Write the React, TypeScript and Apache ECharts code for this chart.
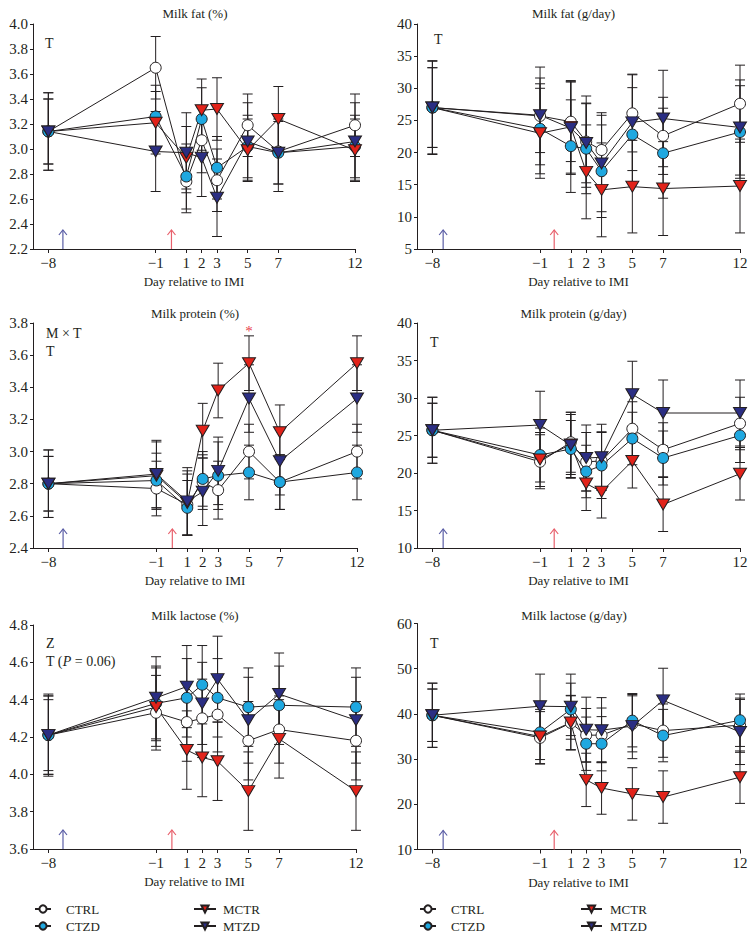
import React, { useEffect, useRef } from 'react';
import * as echarts from 'echarts';

// ---------- data ----------
const days = [-8, -1, 1, 2, 3, 5, 7, 12];
const groups = ['CTRL', 'CTZD', 'MCTR', 'MTZD'];

// Milk fat (%)
const fatPctCTRL = [3.14, 3.65, 2.74, 3.07, 2.75, 3.19, 2.98, 3.19];
const fatPctCTZD = [3.14, 3.26, 2.78, 3.24, 2.85, 3.02, 2.97, 3.02];
const fatPctMCTR = [3.14, 3.21, 2.93, 3.31, 3.32, 2.99, 3.24, 2.99];
const fatPctMTZD = [3.14, 2.98, 2.97, 2.93, 2.61, 3.06, 2.97, 3.06];
const fatPctCTRLse = [0.31, 0.25, 0.25, 0.26, 0.25, 0.25, 0.26, 0.25];
const fatPctCTZDse = [0.26, 0.25, 0.26, 0.25, 0.25, 0.25, 0.25, 0.25];
const fatPctMCTRse = [0.31, 0.25, 0.25, 0.25, 0.25, 0.25, 0.26, 0.25];
const fatPctMTZDse = [0.26, 0.32, 0.32, 0.31, 0.31, 0.31, 0.31, 0.31];

// Milk fat (g/day)
const fatGCTRL = [27.0, 25.7, 24.8, 21.7, 20.4, 26.1, 22.6, 27.6];
const fatGCTZD = [27.0, 23.7, 21.0, 20.6, 17.1, 22.8, 19.9, 23.2];
const fatGMCTR = [27.0, 23.0, 24.0, 17.0, 14.2, 14.7, 14.4, 14.8];
const fatGMTZD = [27.0, 25.8, 23.8, 21.5, 18.3, 24.7, 25.3, 23.9];
const fatGCTRLse = [7.2, 7.6, 6.2, 7.1, 5.8, 6.0, 6.0, 6.0];
const fatGCTZDse = [6.2, 7.0, 7.2, 7.0, 7.2, 7.3, 7.0, 7.2];
const fatGMCTRse = [7.3, 7.0, 7.2, 7.3, 7.3, 7.2, 7.3, 7.3];
const fatGMTZDse = [6.2, 5.8, 7.2, 6.2, 7.5, 7.5, 7.5, 7.4];

// Milk protein (%)
const protPctCTRL = [2.80, 2.77, 2.67, 2.81, 2.76, 3.00, 2.81, 3.00];
const protPctCTZD = [2.80, 2.82, 2.65, 2.83, 2.85, 2.87, 2.81, 2.87];
const protPctMCTR = [2.80, 2.85, 2.68, 3.13, 3.38, 3.55, 3.12, 3.55];
const protPctMTZD = [2.80, 2.86, 2.69, 2.75, 2.88, 3.33, 2.94, 3.33];
const protPctCTRLse = [0.21, 0.17, 0.19, 0.17, 0.18, 0.17, 0.17, 0.17];
const protPctCTZDse = [0.17, 0.17, 0.17, 0.17, 0.21, 0.17, 0.17, 0.17];
const protPctMCTRse = [0.21, 0.21, 0.20, 0.17, 0.17, 0.17, 0.17, 0.17];
const protPctMTZDse = [0.17, 0.21, 0.21, 0.21, 0.21, 0.21, 0.21, 0.21];

// Milk protein (g/day)
const protGCTRL = [25.7, 21.5, 24.1, 21.5, 21.6, 25.9, 23.1, 26.6];
const protGCTZD = [25.7, 22.4, 23.2, 20.2, 21.0, 24.6, 22.0, 25.0];
const protGMCTR = [25.7, 21.8, 23.8, 18.6, 17.5, 21.6, 15.8, 19.9];
const protGMTZD = [25.7, 26.4, 23.7, 22.0, 22.1, 30.5, 28.0, 28.0];
const protGCTRLse = [4.4, 3.6, 4.0, 3.9, 3.9, 3.6, 3.6, 3.5];
const protGCTZDse = [3.6, 3.6, 3.8, 3.5, 4.4, 3.5, 3.6, 3.6];
const protGMCTRse = [4.4, 3.6, 4.0, 3.6, 3.5, 3.6, 3.6, 3.5];
const protGMTZDse = [3.6, 4.5, 4.4, 4.4, 4.4, 4.4, 4.4, 4.4];

// Milk lactose (%)
const lacPctCTRL = [4.21, 4.33, 4.28, 4.30, 4.32, 4.18, 4.24, 4.18];
const lacPctCTZD = [4.21, 4.38, 4.41, 4.48, 4.41, 4.36, 4.37, 4.36];
const lacPctMCTR = [4.21, 4.36, 4.13, 4.09, 4.07, 3.91, 4.19, 3.91];
const lacPctMTZD = [4.21, 4.41, 4.47, 4.38, 4.51, 4.29, 4.43, 4.29];
const lacPctCTRLse = [0.21, 0.20, 0.21, 0.21, 0.20, 0.21, 0.18, 0.21];
const lacPctCTZDse = [0.21, 0.20, 0.21, 0.21, 0.21, 0.21, 0.21, 0.21];
const lacPctMCTRse = [0.19, 0.21, 0.21, 0.21, 0.21, 0.21, 0.21, 0.21];
const lacPctMTZDse = [0.22, 0.22, 0.22, 0.22, 0.23, 0.23, 0.22, 0.23];

// Milk lactose (g/day)
const lacGCTRL = [39.7, 34.7, 38.0, 35.3, 35.3, 37.8, 36.3, 37.5];
const lacGCTZD = [39.7, 35.9, 41.0, 33.4, 33.4, 38.5, 35.2, 38.6];
const lacGMCTR = [39.7, 35.0, 38.1, 25.4, 23.6, 22.3, 21.6, 26.0];
const lacGMTZD = [39.7, 41.7, 41.6, 36.5, 36.4, 37.3, 43.0, 36.0];
const lacGCTRLse = [7.1, 5.8, 6.0, 5.9, 6.0, 6.2, 5.9, 6.0];
const lacGCTZDse = [5.8, 6.0, 5.8, 5.9, 6.0, 5.8, 5.8, 5.8];
const lacGMCTRse = [7.1, 6.0, 6.0, 5.9, 5.8, 5.8, 5.8, 5.8];
const lacGMTZDse = [5.8, 7.1, 7.2, 7.2, 7.2, 7.2, 7.1, 7.2];

// arrows (day positions): treatment start, IMI
const arrowDaysLeft = [-7.05, 0.03];
const arrowDaysRight = [-7.3, -0.08];
// significance marker
const starPoint = [5, 3.75];

// ---------- styles ----------
const FONT = '"Liberation Serif", "Times New Roman", serif';
const INK = '#231f20';
const groupStyles: Record<string, any> = {
  CTRL: { symbol: 'circle', size: 11, rotate: 0, color: '#ffffff' },
  CTZD: { symbol: 'circle', size: 11, rotate: 0, color: '#1fa8e0' },
  MCTR: { symbol: 'triangle', size: [13, 11], rotate: 180, color: '#e2231a' },
  MTZD: { symbol: 'triangle', size: [13, 11], rotate: 180, color: '#2b2e83' },
};
const arrowColors = ['#5b5ea6', '#e8606c'];

const panels = [
  { title: 'Milk fat (%)', min: 2.2, max: 4.0, interval: 0.2, dec: 1,
    means: [fatPctCTRL, fatPctCTZD, fatPctMCTR, fatPctMTZD],
    ses: [fatPctCTRLse, fatPctCTZDse, fatPctMCTRse, fatPctMTZDse],
    grid: { left: 33, top: 24, width: 322, height: 225 }, arrows: arrowDaysLeft },
  { title: 'Milk fat (g/day)', min: 5, max: 40, interval: 5, dec: 0,
    means: [fatGCTRL, fatGCTZD, fatGMCTR, fatGMTZD],
    ses: [fatGCTRLse, fatGCTZDse, fatGMCTRse, fatGMTZDse],
    grid: { left: 417, top: 24, width: 323, height: 225 }, arrows: arrowDaysRight },
  { title: 'Milk protein (%)', min: 2.4, max: 3.8, interval: 0.2, dec: 1,
    means: [protPctCTRL, protPctCTZD, protPctMCTR, protPctMTZD],
    ses: [protPctCTRLse, protPctCTZDse, protPctMCTRse, protPctMTZDse],
    grid: { left: 33, top: 323, width: 324, height: 225 }, arrows: arrowDaysLeft },
  { title: 'Milk protein (g/day)', min: 10, max: 40, interval: 5, dec: 0,
    means: [protGCTRL, protGCTZD, protGMCTR, protGMTZD],
    ses: [protGCTRLse, protGCTZDse, protGMCTRse, protGMTZDse],
    grid: { left: 417, top: 323, width: 323, height: 225 }, arrows: arrowDaysRight },
  { title: 'Milk lactose (%)', min: 3.6, max: 4.8, interval: 0.2, dec: 1,
    means: [lacPctCTRL, lacPctCTZD, lacPctMCTR, lacPctMTZD],
    ses: [lacPctCTRLse, lacPctCTZDse, lacPctMCTRse, lacPctMTZDse],
    grid: { left: 33, top: 625, width: 323, height: 224 }, arrows: arrowDaysLeft },
  { title: 'Milk lactose (g/day)', min: 10, max: 60, interval: 10, dec: 0,
    means: [lacGCTRL, lacGCTZD, lacGMCTR, lacGMTZD],
    ses: [lacGCTRLse, lacGCTZDse, lacGMCTRse, lacGMTZDse],
    grid: { left: 417, top: 623.5, width: 323, height: 226 }, arrows: arrowDaysRight },
];

const titleCenters = [
  [195, 13], [573.5, 13], [195, 313.5], [573.5, 313.5], [195, 615], [574, 615],
];

function buildOption() {
  const grids: any[] = [];
  const xAxes: any[] = [];
  const yAxes: any[] = [];
  const series: any[] = [];

  panels.forEach((p, pi) => {
    grids.push({ ...p.grid });
    xAxes.push({
      type: 'value', gridIndex: pi, min: -9, max: 12, interval: 1,
      splitLine: { show: false },
      axisLine: { show: true, onZero: false, lineStyle: { color: INK, width: 1 } },
      axisTick: { show: true, length: 4, customValues: days, lineStyle: { color: INK } },
      axisLabel: {
        customValues: days, margin: 6, color: INK, fontFamily: FONT, fontSize: 15,
        formatter: (v: number) => (v < 0 ? '\u2212' + Math.abs(v) : String(v)),
      },
      name: 'Day relative to IMI', nameLocation: 'middle', nameGap: 26,
      nameTextStyle: { color: INK, fontFamily: FONT, fontSize: 13 },
    });
    yAxes.push({
      type: 'value', gridIndex: pi, min: p.min, max: p.max, interval: p.interval,
      splitLine: { show: false },
      axisLine: { show: true, onZero: false, lineStyle: { color: INK, width: 1 } },
      axisTick: { show: true, length: 3, lineStyle: { color: INK } },
      axisLabel: {
        margin: 5, color: INK, fontFamily: FONT, fontSize: 15,
        formatter: (v: number) => v.toFixed(p.dec),
      },
    });

    // error bars
    groups.forEach((g, gi) => {
      series.push({
        type: 'custom', name: g + '-err', xAxisIndex: pi, yAxisIndex: pi, z: 1,
        silent: true,
        encode: { x: 0, y: 1 },
        data: days.map((d, i) => [d, p.means[gi][i], p.ses[gi][i]]),
        renderItem: (params: any, api: any) => {
          const x = api.value(0), y = api.value(1), e = api.value(2);
          const t = api.coord([x, y + e]);
          const b = api.coord([x, y - e]);
          const hw = 5;
          const st = { stroke: INK, lineWidth: 1 };
          return {
            type: 'group',
            children: [
              { type: 'line', shape: { x1: t[0], y1: t[1], x2: b[0], y2: b[1] }, style: st },
              { type: 'line', shape: { x1: t[0] - hw, y1: t[1], x2: t[0] + hw, y2: t[1] }, style: st },
              { type: 'line', shape: { x1: b[0] - hw, y1: b[1], x2: b[0] + hw, y2: b[1] }, style: st },
            ],
          };
        },
      });
    });

    // lines + markers
    groups.forEach((g, gi) => {
      const s = groupStyles[g];
      series.push({
        type: 'line', name: g, xAxisIndex: pi, yAxisIndex: pi, z: 3,
        data: days.map((d, i) => [d, p.means[gi][i]]),
        symbol: s.symbol, symbolSize: s.size, symbolRotate: s.rotate,
        showAllSymbol: true,
        itemStyle: { color: s.color, borderColor: INK, borderWidth: 1 },
        lineStyle: { color: INK, width: 1 },
        emphasis: { disabled: true },
      });
    });

    // arrows
    series.push({
      type: 'custom', name: 'arrows', xAxisIndex: pi, yAxisIndex: pi, z: 2, silent: true,
      encode: { x: 0, y: 1 },
      data: p.arrows.map((d) => [d, p.min]),
      renderItem: (params: any, api: any) => {
        const pt = api.coord([api.value(0), api.value(1)]);
        const c = arrowColors[params.dataIndex];
        const h = 19;
        const st = { stroke: c, lineWidth: 1.2, fill: 'none' };
        return {
          type: 'group',
          children: [
            { type: 'line', shape: { x1: pt[0], y1: pt[1], x2: pt[0], y2: pt[1] - h }, style: st },
            { type: 'polyline', shape: { points: [[pt[0] - 4, pt[1] - h + 5], [pt[0], pt[1] - h], [pt[0] + 4, pt[1] - h + 5]] }, style: st },
          ],
        };
      },
    });

    if (pi === 2) {
      series.push({
        type: 'custom', name: 'star', xAxisIndex: pi, yAxisIndex: pi, z: 4, silent: true,
        encode: { x: 0, y: 1 },
        data: [starPoint],
        renderItem: (params: any, api: any) => {
          const pt = api.coord([api.value(0), api.value(1)]);
          return {
            type: 'text', x: pt[0], y: pt[1],
            style: { text: '*', fill: '#e8404a', fontSize: 15, fontFamily: FONT, align: 'center', verticalAlign: 'middle' },
          };
        },
      });
    }
  });

  const txt = (text: string, x: number, y: number, align = 'center', extra: any = {}) => ({
    type: 'text', x, y, silent: true,
    style: { text, fill: INK, fontSize: 13, fontFamily: FONT, align, verticalAlign: 'middle', ...extra },
  });

  const graphics: any[] = [];
  panels.forEach((p, pi) => {
    graphics.push(txt(p.title, titleCenters[pi][0], titleCenters[pi][1]));
  });
  graphics.push(txt('T', 45, 43, 'left', { fontSize: 14 }));
  graphics.push(txt('T', 434, 39, 'left', { fontSize: 14 }));
  graphics.push(txt('M \u00d7 T', 46, 333, 'left', { fontSize: 14 }));
  graphics.push(txt('T', 46, 351, 'left', { fontSize: 14 }));
  graphics.push(txt('T', 430, 342, 'left', { fontSize: 14 }));
  graphics.push(txt('Z', 46, 643, 'left', { fontSize: 14 }));
  graphics.push({
    type: 'text', x: 46, y: 661, silent: true,
    style: {
      text: '{n|T (}{i|P}{n| = 0.06)}', fill: INK, fontSize: 14, fontFamily: FONT,
      align: 'left', verticalAlign: 'middle',
      rich: {
        n: { fontSize: 14, fontFamily: FONT, fill: INK, color: INK },
        i: { fontSize: 14, fontFamily: FONT, fontStyle: 'italic', fill: INK, color: INK },
      },
    },
  });
  graphics.push(txt('T', 430, 643, 'left', { fontSize: 14 }));

  const legendBase = {
    orient: 'vertical', itemGap: 4, itemHeight: 9, padding: 0, top: 902.5,
    selectedMode: false,
  };
  const legendText = (pad: number) => ({
    color: INK, fontFamily: FONT, fontSize: 13, padding: [0, 0, 0, pad],
  });
  const legends = [
    { ...legendBase, left: 34, itemWidth: 16, textStyle: legendText(10), data: ['CTRL', 'CTZD'] },
    { ...legendBase, left: 193, itemWidth: 22, textStyle: legendText(2), data: ['MCTR', 'MTZD'] },
    { ...legendBase, left: 419, itemWidth: 16, textStyle: legendText(10), data: ['CTRL', 'CTZD'] },
    { ...legendBase, left: 580, itemWidth: 21, textStyle: legendText(3), data: ['MCTR', 'MTZD'] },
  ];

  return {
    animation: false,
    backgroundColor: '#ffffff',
    textStyle: { fontFamily: FONT },
    grid: grids,
    xAxis: xAxes,
    yAxis: yAxes,
    legend: legends,
    graphic: { elements: graphics },
    series,
  };
}

export default function App() {
  const ref = useRef<HTMLDivElement>(null);
  useEffect(() => {
    if (!ref.current) return;
    const chart = echarts.init(ref.current, undefined, { renderer: 'svg' });
    chart.setOption(buildOption() as any);
    return () => chart.dispose();
  }, []);
  return (
    <div
      ref={ref}
      style={{ position: 'absolute', left: 0, top: 0, width: 755, height: 940, background: '#fff' }}
    />
  );
}
